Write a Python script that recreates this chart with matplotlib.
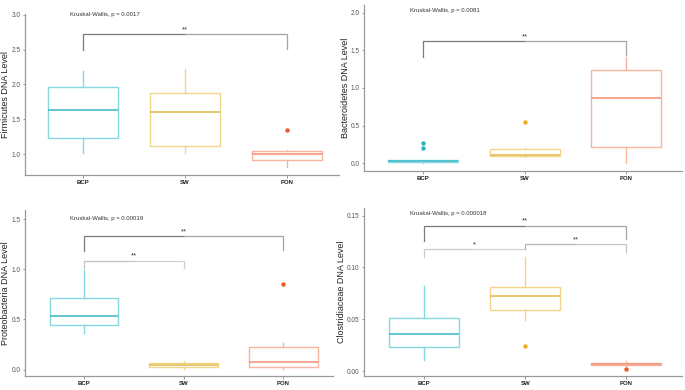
import matplotlib
matplotlib.use("Agg")
import matplotlib.pyplot as plt

plt.rcParams['font.family'] = ['Liberation Sans', 'DejaVu Sans']

W, H = 685, 390

groups = ["BCP", "SW", "PON"]

# Panel data: whislo, q1, med, q3, whishi, fliers per group
firm_lo = [1.01, 1.01, 0.82]
firm_q1 = [1.23, 1.12, 0.91]
firm_med = [1.64, 1.61, 1.00]
firm_q3 = [1.96, 1.88, 1.05]
firm_hi = [2.20, 2.23, 1.06]
firm_fl = [[], [], [1.35]]

bact_lo = [0.01, 0.09, 0.00]
bact_q1 = [0.015, 0.10, 0.22]
bact_med = [0.035, 0.11, 0.87]
bact_q3 = [0.045, 0.19, 1.24]
bact_hi = [0.045, 0.20, 1.41]
bact_fl = [[0.21, 0.265], [0.55], []]

prot_lo = [0.37, 0.01, 0.01]
prot_q1 = [0.44, 0.027, 0.023]
prot_med = [0.535, 0.047, 0.08]
prot_q3 = [0.71, 0.068, 0.223]
prot_hi = [0.99, 0.09, 0.263]
prot_fl = [[], [], [0.853]]

clos_lo = [0.011, 0.049, 0.005]
clos_q1 = [0.023, 0.0586, 0.006]
clos_med = [0.0354, 0.0721, 0.007]
clos_q3 = [0.0509, 0.0808, 0.008]
clos_hi = [0.0824, 0.1097, 0.0097]
clos_fl = [[], [0.0244], [0.0022]]

ylabels = ["Firmicutes DNA Level", "Bacteroidetes DNA Level",
           "Proteobacteria DNA Level", "Clostridiaceae DNA Level"]
kw_texts = ["Kruskal-Wallis, p = 0.0017", "Kruskal-Wallis, p = 0.0081",
            "Kruskal-Wallis, p = 0.00019", "Kruskal-Wallis, p = 0.000018"]
yticks = [[1.0, 1.5, 2.0, 2.5, 3.0], [0.0, 0.5, 1.0, 1.5, 2.0],
          [0.0, 0.5, 1.0, 1.5], [0.00, 0.05, 0.10, 0.15]]
ytick_labels = [["1.0", "1.5", "2.0", "2.5", "3.0"],
                ["0.0", "0.5", "1.0", "1.5", "2.0"],
                ["0.0", "0.5", "1.0", "1.5"],
                ["0.00", "0.05", "0.10", "0.15"]]

# brackets: (x1, x2, y_bar, y_left_end, y_right_end, label, left colour, right colour)
brackets = [
    [(1, 3, 2.72, 2.50, 2.51, "**", "#7a7a7a", "#a5a5a5")],
    [(1, 3, 1.624, 1.415, 1.44, "**", "#7a7a7a", "#a5a5a5")],
    [(1, 3, 1.33, 1.18, 1.19, "**", "#7a7a7a", "#a5a5a5"),
     (1, 2, 1.087, 1.01, 1.01, "**", "#c0c0c0", "#d0d0d0")],
    [(1, 3, 0.1403, 0.1258, 0.127, "**", "#7a7a7a", "#a5a5a5"),
     (1, 2, 0.1178, 0.110, 0.1178, "*", "#cccccc", "#d4d4d4"),
     (2, 3, 0.1223, 0.1178, 0.1146, "**", "#b5b5b5", "#c5c5c5")],
]

edge_cols = ["#86D9E1", "#F3D68A", "#F8B49E"]
med_cols = ["#45BCC9", "#E4BE55", "#F3967B"]
flier_cols = ["#2CB4C4", "#F0AE1C", "#EE5A2C"]

# layout in pixels: left, right, top, bottom ; ylim ; xlim ; text pos ; label x
panels = [
    dict(data=(firm_lo, firm_q1, firm_med, firm_q3, firm_hi, firm_fl),
         box=(25, 339, 14, 175), ylim=(0.698, 3.014), xlim=(0.431, 3.51),
         txt=(0.87, 3.0), labx=10),
    dict(data=(bact_lo, bact_q1, bact_med, bact_q3, bact_hi, bact_fl),
         box=(364, 682, 5, 171), ylim=(-0.102, 2.102), xlim=(0.419, 3.55),
         txt=(0.87, 2.03), labx=350),
    dict(data=(prot_lo, prot_q1, prot_med, prot_q3, prot_hi, prot_fl),
         box=(25, 333, 210, 376), ylim=(-0.063, 1.59), xlim=(0.407, 3.5),
         txt=(0.86, 1.51), labx=10),
    dict(data=(clos_lo, clos_q1, clos_med, clos_q3, clos_hi, clos_fl),
         box=(364, 682, 208, 376), ylim=(-0.0048, 0.1574), xlim=(0.406, 3.55),
         txt=(0.86, 0.1523), labx=346),
]

fig = plt.figure(figsize=(W / 100, H / 100), dpi=100)
fig.patch.set_facecolor("white")

for i, p in enumerate(panels):
    l, r, t, b = p["box"]
    ax = fig.add_axes([l / W, 1 - b / H, (r - l) / W, (b - t) / H])
    lo, q1, med, q3, hi, fl = p["data"]
    for j in range(3):
        st = [dict(whislo=lo[j], q1=q1[j], med=med[j], q3=q3[j],
                   whishi=hi[j], fliers=fl[j])]
        ax.bxp(st, positions=[j + 1], widths=0.69, showcaps=False,
               patch_artist=True,
               boxprops=dict(facecolor="white", edgecolor=edge_cols[j], linewidth=1.0),
               whiskerprops=dict(color=edge_cols[j], linewidth=1.0),
               medianprops=dict(color=med_cols[j], linewidth=1.2),
               flierprops=dict(marker="o", markersize=2.2,
                               markerfacecolor=flier_cols[j],
                               markeredgecolor=flier_cols[j]))
    ax.set_xlim(*p["xlim"])
    ax.set_ylim(*p["ylim"])
    ax.set_xticks([1, 2, 3])
    ax.set_xticklabels(groups, fontsize=4.3, fontweight="bold", color="#222222")
    ax.set_yticks(yticks[i])
    ax.set_yticklabels(ytick_labels[i], fontsize=4.7, color="#555555")
    ax.tick_params(axis="both", length=1.8, width=0.6, color="#888888", pad=1.5)
    for s in ["top", "right"]:
        ax.spines[s].set_visible(False)
    for s in ["left", "bottom"]:
        ax.spines[s].set_color("#999999")
        ax.spines[s].set_linewidth(0.9)
    ax.set_ylabel(ylabels[i], fontsize=6.5, color="#222222")
    ax.yaxis.set_label_coords((p["labx"] - l) / (r - l), 0.5)
    ax.text(p["txt"][0], p["txt"][1], kw_texts[i], fontsize=4.3,
            color="#333333", ha="left", va="center", clip_on=False)
    yr = p["ylim"][1] - p["ylim"][0]
    for (x1, x2, yb, yl, yrr, lab, c1, c2) in brackets[i]:
        xm = (x1 + x2) / 2
        ax.plot([x1, x1, xm], [yl, yb, yb], color=c1,
                linewidth=0.9, solid_joinstyle="miter", clip_on=False)
        ax.plot([xm, x2, x2], [yb, yb, yrr], color=c2,
                linewidth=0.9, solid_joinstyle="miter", clip_on=False)
        ax.text(xm, yb + yr * 0.005, lab, fontsize=5.5,
                ha="center", va="bottom", color="#333333", clip_on=False)

fig.savefig("out.png", dpi=100, facecolor="white")
